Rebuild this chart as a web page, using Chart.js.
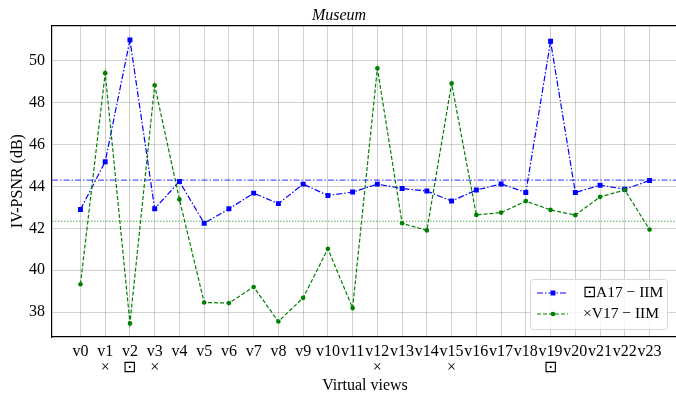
<!DOCTYPE html>
<html>
<head>
<meta charset="utf-8">
<script src="https://cdn.jsdelivr.net/npm/chart.js@4"></script>
<style>
  html, body { margin: 0; padding: 0; overflow: hidden; background: #fff; }
  canvas { display: block; }
</style>
</head>
<body>
<canvas id="chart" width="730" height="400"></canvas>
<script>
const views = ['v0','v1','v2','v3','v4','v5','v6','v7','v8','v9','v10','v11',
               'v12','v13','v14','v15','v16','v17','v18','v19','v20','v21','v22','v23'];
// symbol printed under some views
const marks = ['','×','⊡','×','','','','','','','','',
               '×','','','×','','','','⊡','','','',''];
const a17 = [42.9, 45.18, 51.0, 42.93, 44.24, 42.24, 42.93, 43.68, 43.18, 44.11, 43.57, 43.73,
             44.11, 43.9, 43.78, 43.3, 43.83, 44.12, 43.71, 50.93, 43.71, 44.06, 43.87, 44.28];
const v17 = [39.33, 49.41, 37.46, 48.83, 43.38, 38.46, 38.43, 39.2, 37.55, 38.68, 41.02, 38.19,
             49.64, 42.24, 41.9, 48.92, 42.64, 42.75, 43.3, 42.88, 42.63, 43.5, 43.83, 41.94];
const yTicks = [38, 40, 42, 44, 46, 48, 50];
const legendLabels = ['⊡A17 − IIM', '×V17 − IIM'];

const BLUE = '#0000ff';
const GREEN = '#008000';
const SERIF = '"Liberation Serif", "Times New Roman", serif';

const toPts = arr => arr.map((v, i) => ({ x: i, y: v }));
const mean = arr => arr.reduce((s, v) => s + v, 0) / arr.length;
const xMin = -1.15, xMax = views.length - 1 + 1.15;
const hLine = v => [{ x: xMin, y: v }, { x: xMax, y: v }];

// legend box drawn inside the plot (lower right), plus top spine
const boxLegend = {
  id: 'boxLegend',
  afterDraw(chart) {
    const { ctx, chartArea: ca } = chart;
    ctx.save();
    ctx.strokeStyle = '#000';
    ctx.lineWidth = 1.2;
    ctx.beginPath();
    ctx.moveTo(ca.left, ca.top + 0.5);
    ctx.lineTo(ca.right, ca.top + 0.5);
    ctx.stroke();

    const x0 = ca.right - 148, y0 = ca.bottom - 58, w = 137, h = 50;
    ctx.fillStyle = 'rgba(255,255,255,0.8)';
    ctx.strokeStyle = '#d8d8d8';
    ctx.lineWidth = 1;
    ctx.beginPath();
    ctx.roundRect(x0 + 0.5, y0 + 0.5, w, h, 3);
    ctx.fill();
    ctx.stroke();

    const rows = [
      { color: BLUE, dash: [6, 2, 1.5, 2], style: 'rect', r: 3.5 },
      { color: GREEN, dash: [4, 2], style: 'circle', r: 2.3 }
    ];
    rows.forEach((row, i) => {
      const y = y0 + 14 + i * 21;
      ctx.strokeStyle = row.color;
      ctx.lineWidth = 1.2;
      ctx.setLineDash(row.dash);
      ctx.beginPath();
      ctx.moveTo(x0 + 7, y);
      ctx.lineTo(x0 + 38, y);
      ctx.stroke();
      ctx.setLineDash([]);
      ctx.fillStyle = row.color;
      Chart.helpers.drawPoint(ctx, { pointStyle: row.style, radius: row.r, borderWidth: 0 }, x0 + 23, y);
      ctx.fillStyle = '#000';
      ctx.font = '15.5px ' + SERIF;
      ctx.textBaseline = 'middle';
      ctx.textAlign = 'left';
      ctx.fillText(legendLabels[i], x0 + 53, y);
    });
    ctx.restore();
  }
};

new Chart(document.getElementById('chart'), {
  type: 'line',
  data: {
    datasets: [
      {
        label: legendLabels[0],
        data: toPts(a17),
        borderColor: BLUE,
        backgroundColor: BLUE,
        borderWidth: 1.2,
        borderDash: [6, 2, 1.5, 2],
        pointStyle: 'rect',
        pointRadius: 3.5,
        pointBorderWidth: 0,
        order: 2
      },
      {
        label: legendLabels[1],
        data: toPts(v17),
        borderColor: GREEN,
        backgroundColor: GREEN,
        borderWidth: 1.2,
        borderDash: [4, 2],
        pointStyle: 'circle',
        pointRadius: 2.3,
        pointBorderWidth: 0,
        order: 1
      },
      {
        label: 'mean A17',
        data: hLine(mean(a17)),
        borderColor: 'rgba(0,0,255,0.65)',
        borderWidth: 1.1,
        borderDash: [6, 2, 1.5, 2],
        pointRadius: 0,
        order: 0
      },
      {
        label: 'mean V17',
        data: hLine(mean(v17)),
        borderColor: 'rgba(0,128,0,0.65)',
        borderWidth: 1.1,
        borderDash: [1.5, 1.5],
        pointRadius: 0,
        order: 0
      }
    ]
  },
  options: {
    responsive: false,
    animation: false,
    layout: { padding: { left: 0, right: 52, top: 0, bottom: 0 } },
    plugins: {
      legend: { display: false },
      tooltip: { enabled: false },
      title: {
        display: true,
        text: 'Museum',
        color: '#000',
        font: { family: SERIF, size: 16, style: 'italic', weight: 'normal' },
        padding: { top: 6, bottom: 0 }
      }
    },
    scales: {
      x: {
        type: 'linear',
        min: xMin,
        max: xMax,
        afterFit: s => { s.height = 63; },
        afterBuildTicks: s => { s.ticks = views.map((_, i) => ({ value: i })); },
        grid: { color: 'rgba(0,0,0,0.18)', drawTicks: false },
        border: { color: '#000', width: 1.2 },
        ticks: {
          autoSkip: false,
          maxRotation: 0,
          padding: 7,
          color: '#000',
          font: { family: SERIF, size: 16, lineHeight: 1.0 },
          callback: v => [views[v], marks[v]]
        },
        title: {
          display: true,
          text: 'Virtual views',
          color: '#000',
          font: { family: SERIF, size: 16 },
          padding: { top: 0, bottom: 5 }
        }
      },
      y: {
        min: 36.81,
        max: 51.7,
        afterFit: s => { s.width = 52; },
        afterBuildTicks: s => { s.ticks = yTicks.map(v => ({ value: v })); },
        grid: { color: 'rgba(0,0,0,0.18)', drawTicks: false },
        border: { color: '#000', width: 1.2 },
        ticks: {
          padding: 7,
          color: '#000',
          font: { family: SERIF, size: 16 }
        },
        title: {
          display: true,
          text: 'IV-PSNR (dB)',
          color: '#000',
          font: { family: SERIF, size: 16 },
          padding: { top: 8, bottom: 0 }
        }
      }
    }
  },
  plugins: [boxLegend]
});
</script>
</body>
</html>
